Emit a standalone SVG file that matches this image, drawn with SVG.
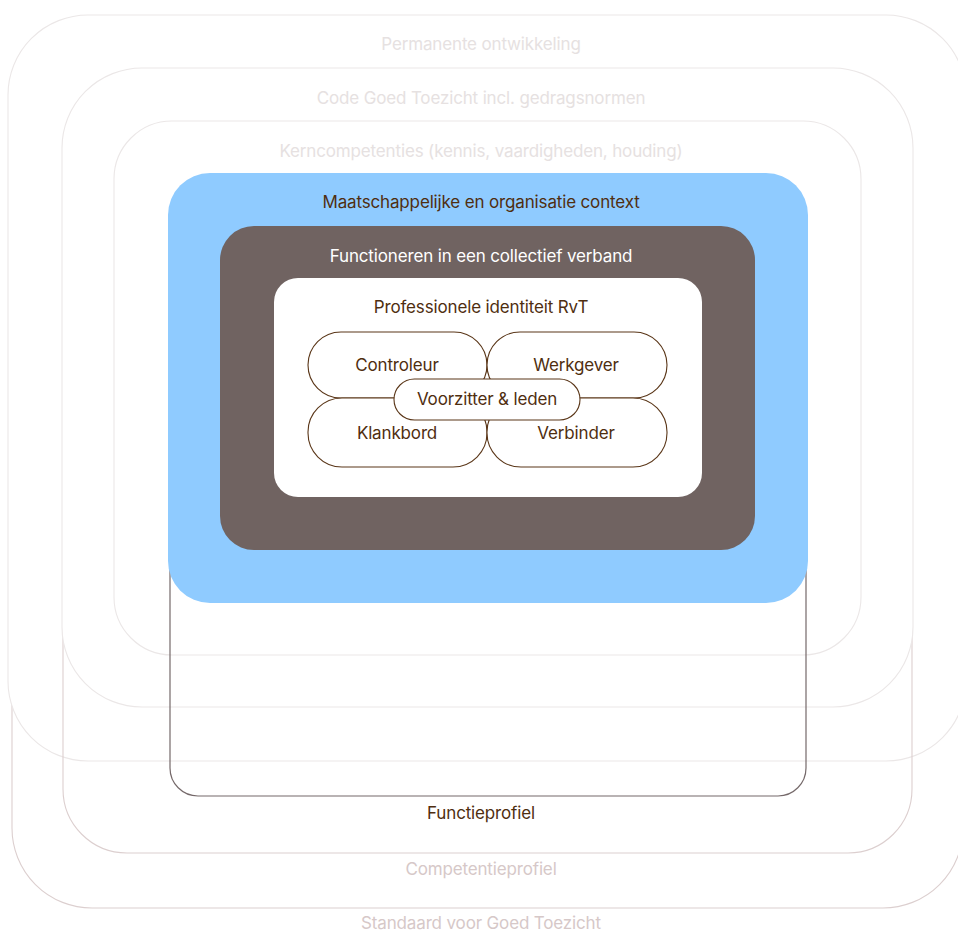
<svg xmlns="http://www.w3.org/2000/svg" width="958" height="932" viewBox="0 0 958 932">
  <style>
    text { font-family: Inter, "Liberation Sans", sans-serif; font-size: 17px; text-anchor: middle; letter-spacing: -0.15px; }
    .light { fill: #ffffff; stroke: #ebe7e7; stroke-width: 1.1; }
    .pink { fill: none; stroke: #dccfcf; stroke-width: 1.1; }
    .tlight { fill: #e6e1e1; }
    .tpink { fill: #d6c8c8; }
    .tbrown { fill: #4f2e10; }
    .twhite { fill: #ffffff; }
    .pill { fill: #ffffff; stroke: #5a3618; stroke-width: 1.1; }
  </style>
  <rect width="958" height="932" fill="#ffffff"/>

  <g id="standaard">
    <rect class="pink" x="12" y="40" width="951" height="868" rx="80"/>
    <text class="tpink" x="481" y="929">Standaard voor Goed Toezicht</text>
  </g>
  <g id="permanente">
    <rect class="light" x="8" y="15" width="958" height="746" rx="80"/>
    <text class="tlight" x="481" y="50">Permanente ontwikkeling</text>
  </g>
  <g id="competentieprofiel">
    <rect class="pink" x="63" y="90" width="849" height="763" rx="64"/>
    <text class="tpink" x="481" y="875">Competentieprofiel</text>
  </g>
  <g id="code">
    <rect class="light" x="62" y="68" width="851" height="639" rx="80"/>
    <text class="tlight" x="481" y="104">Code Goed Toezicht incl. gedragsnormen</text>
  </g>
  <g id="kerncompetenties">
    <rect class="light" x="114" y="121" width="747" height="534" rx="58"/>
    <text class="tlight" x="481" y="157">Kerncompetenties (kennis, vaardigheden, houding)</text>
  </g>
  <g id="functieprofiel">
    <rect x="170" y="220" width="636" height="576" rx="28" fill="none" stroke="#75696a" stroke-width="1.2"/>
    <text class="tbrown" x="481" y="819">Functieprofiel</text>
  </g>
  <g id="context">
    <rect x="168" y="173" width="640" height="430" rx="42" fill="#8fcbff"/>
    <text class="tbrown" x="481" y="208">Maatschappelijke en organisatie context</text>
  </g>
  <g id="collectief">
    <rect x="220" y="226" width="535" height="324" rx="34" fill="#706361"/>
    <text class="twhite" x="481" y="262">Functioneren in een collectief verband</text>
  </g>
  <g id="identiteit">
    <rect x="274" y="278" width="428" height="219" rx="24" fill="#ffffff"/>
    <text class="tbrown" x="481" y="313">Professionele identiteit RvT</text>
  </g>
  <g id="connectors"/>
  <g id="controleur">
    <rect class="pill" x="308" y="332" width="179" height="66" rx="33"/>
    <text class="tbrown" x="397" y="371">Controleur</text>
  </g>
  <g id="werkgever">
    <rect class="pill" x="487" y="332" width="180" height="66" rx="33"/>
    <text class="tbrown" x="576" y="371">Werkgever</text>
  </g>
  <g id="klankbord">
    <rect class="pill" x="308" y="398" width="179" height="69" rx="34"/>
    <text class="tbrown" x="397" y="439">Klankbord</text>
  </g>
  <g id="verbinder">
    <rect class="pill" x="487" y="398" width="180" height="69" rx="34"/>
    <text class="tbrown" x="576" y="439">Verbinder</text>
  </g>
  <g id="voorzitter">
    <rect class="pill" x="394" y="379" width="186" height="41" rx="20.5"/>
    <text class="tbrown" x="487" y="405">Voorzitter &amp; leden</text>
  </g>
</svg>
